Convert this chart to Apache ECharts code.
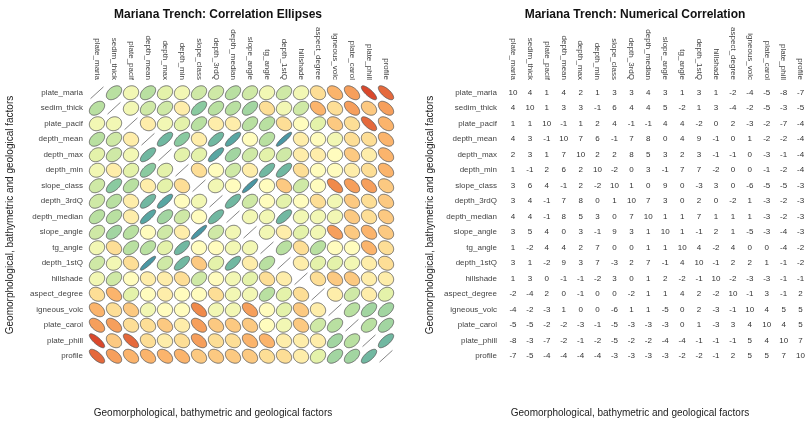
<!DOCTYPE html>
<html>
<head>
<meta charset="utf-8">
<script src="https://cdn.jsdelivr.net/npm/echarts@6/dist/echarts.min.js"></script>
<style>html,body{margin:0;padding:0;background:#fff;}#c{width:809px;height:421px;}</style>
</head>
<body>
<div id="c"></div>
<script>
const variables = ["plate_maria","sedim_thick","plate_pacif","depth_mean","depth_max","depth_min","slope_class","depth_3rdQ","depth_median","slope_angle","tg_angle","depth_1stQ","hillshade","aspect_degree","igneous_volc","plate_carol","plate_phill","profile"];

// correlation x 10, rows in order of variables
const row_plate_maria   = [10,4,1,4,2,1,3,3,4,3,1,3,1,-2,-4,-5,-8,-7];
const row_sedim_thick   = [4,10,1,3,3,-1,6,4,4,5,-2,1,3,-4,-2,-5,-3,-5];
const row_plate_pacif   = [1,1,10,-1,1,2,4,-1,-1,4,4,-2,0,2,-3,-2,-7,-4];
const row_depth_mean    = [4,3,-1,10,7,6,-1,7,8,0,4,9,-1,0,1,-2,-2,-4];
const row_depth_max     = [2,3,1,7,10,2,2,8,5,3,2,3,-1,-1,0,-3,-1,-4];
const row_depth_min     = [1,-1,2,6,2,10,-2,0,3,-1,7,7,-2,0,0,-1,-2,-4];
const row_slope_class   = [3,6,4,-1,2,-2,10,1,0,9,0,-3,3,0,-6,-5,-5,-3];
const row_depth_3rdQ    = [3,4,-1,7,8,0,1,10,7,3,0,2,0,-2,1,-3,-2,-3];
const row_depth_median  = [4,4,-1,8,5,3,0,7,10,1,1,7,1,1,1,-3,-2,-3];
const row_slope_angle   = [3,5,4,0,3,-1,9,3,1,10,1,-1,2,1,-5,-3,-4,-3];
const row_tg_angle      = [1,-2,4,4,2,7,0,0,1,1,10,4,-2,4,0,0,-4,-2];
const row_depth_1stQ    = [3,1,-2,9,3,7,-3,2,7,-1,4,10,-1,2,2,1,-1,-2];
const row_hillshade     = [1,3,0,-1,-1,-2,3,0,1,2,-2,-1,10,-2,-3,-3,-1,-1];
const row_aspect_degree = [-2,-4,2,0,-1,0,0,-2,1,1,4,2,-2,10,-1,3,-1,2];
const row_igneous_volc  = [-4,-2,-3,1,0,0,-6,1,1,-5,0,2,-3,-1,10,4,5,5];
const row_plate_carol   = [-5,-5,-2,-2,-3,-1,-5,-3,-3,-3,0,1,-3,3,4,10,4,5];
const row_plate_phill   = [-8,-3,-7,-2,-1,-2,-5,-2,-2,-4,-4,-1,-1,-1,5,4,10,7];
const row_profile       = [-7,-5,-4,-4,-4,-4,-3,-3,-3,-3,-2,-2,-1,2,5,5,7,10];

const rows = [row_plate_maria,row_sedim_thick,row_plate_pacif,row_depth_mean,row_depth_max,row_depth_min,row_slope_class,row_depth_3rdQ,row_depth_median,row_slope_angle,row_tg_angle,row_depth_1stQ,row_hillshade,row_aspect_degree,row_igneous_volc,row_plate_carol,row_plate_phill,row_profile];

const axisTitle = "Geomorphological, bathymetric and geological factors";

// colour ramp
const stops = [
  [-1.0,[190,30,40]],
  [-0.8,[218,72,44]],
  [-0.6,[240,138,75]],
  [-0.4,[251,180,108]],
  [-0.2,[253,222,150]],
  [0.0,[255,252,190]],
  [0.2,[228,242,170]],
  [0.4,[185,224,161]],
  [0.6,[138,202,160]],
  [0.8,[88,166,162]],
  [1.0,[60,135,165]]
];
function colorFor(r){
  for(let i=0;i<stops.length-1;i++){
    const a=stops[i], b=stops[i+1];
    if(r>=a[0] && r<=b[0]){
      const t=(r-a[0])/(b[0]-a[0]);
      const c=a[1].map((v,k)=>Math.round(v+(b[1][k]-v)*t));
      return 'rgb('+c.join(',')+')';
    }
  }
  return 'rgb(255,252,190)';
}

const cellData = [];
rows.forEach((row,i)=>row.forEach((v,j)=>cellData.push([j,i,v])));

const chart = echarts.init(document.getElementById('c'), null, {renderer:'canvas'});

const labelFont = {fontSize:8, color:'#444', fontFamily:'Liberation Sans, Arial, sans-serif'};

function xAx(idx){
  return {type:'category', gridIndex:idx, data:variables, position:'top',
    axisLine:{show:false}, axisTick:{show:false}, splitLine:{show:false},
    axisLabel:Object.assign({rotate:90, margin:5, interval:0}, labelFont)};
}
function yAx(idx, margin){
  return {type:'category', gridIndex:idx, data:variables, inverse:true,
    axisLine:{show:false}, axisTick:{show:false}, splitLine:{show:false},
    axisLabel:Object.assign({margin:margin, interval:0}, labelFont)};
}

const option = {
  animation:false,
  backgroundColor:'#fff',
  textStyle:{fontFamily:'Liberation Sans, Arial, sans-serif'},
  title:[
    {text:'Mariana Trench: Correlation Ellipses', left:213, top:4, textAlign:'center',
     textStyle:{fontSize:12, fontWeight:'bold', color:'#111', fontFamily:'Liberation Sans, Arial, sans-serif'}},
    {text:'Mariana Trench: Numerical Correlation', left:630, top:4, textAlign:'center',
     textStyle:{fontSize:12, fontWeight:'bold', color:'#111', fontFamily:'Liberation Sans, Arial, sans-serif'}}
  ],
  grid:[
    {left:88.5, top:85, width:306, height:279},
    {left:504.5, top:85, width:306, height:279}
  ],
  xAxis:[xAx(0), xAx(1)],
  yAxis:[yAx(0,5.5), yAx(1,7.5)],
  graphic:[
    {type:'text', x:10, y:215, rotation:Math.PI/2,
     style:{text:axisTitle, fontSize:10, fill:'#222', align:'center', verticalAlign:'middle', fontFamily:'Liberation Sans, Arial, sans-serif'}},
    {type:'text', x:430, y:215, rotation:Math.PI/2,
     style:{text:axisTitle, fontSize:10, fill:'#222', align:'center', verticalAlign:'middle', fontFamily:'Liberation Sans, Arial, sans-serif'}},
    {type:'text', x:213, y:413,
     style:{text:axisTitle, fontSize:10, fill:'#222', align:'center', verticalAlign:'middle', fontFamily:'Liberation Sans, Arial, sans-serif'}},
    {type:'text', x:630, y:413,
     style:{text:axisTitle, fontSize:10, fill:'#222', align:'center', verticalAlign:'middle', fontFamily:'Liberation Sans, Arial, sans-serif'}}
  ],
  series:[
    {type:'custom', xAxisIndex:0, yAxisIndex:0, data:cellData,
     renderItem:function(params, api){
       const c = api.coord([api.value(0), api.value(1)]);
       const s = api.size([1,1]);
       const r = api.value(2)/10;
       const w = s[0]*0.9, h = s[1]*0.9;
       if (r >= 0.999){
         return {type:'line', shape:{x1:c[0]-s[0]*0.38, y1:c[1]+s[1]*0.38, x2:c[0]+s[0]*0.38, y2:c[1]-s[1]*0.38},
           style:{stroke:'#666', lineWidth:0.8}};
       }
       const d = Math.acos(r);
       const pts = [];
       const n = 64;
       for(let k=0;k<n;k++){
         const t = 2*Math.PI*k/n;
         const x = Math.cos(t + d/2)/2;
         const y = Math.cos(t - d/2)/2;
         pts.push([c[0] + x*w, c[1] - y*h]);
       }
       return {type:'polygon', shape:{points:pts},
         style:{fill:colorFor(r), stroke:'#555', lineWidth:0.8}};
     }},
    {type:'custom', xAxisIndex:1, yAxisIndex:1, data:cellData,
     renderItem:function(params, api){
       const c = api.coord([api.value(0), api.value(1)]);
       return {type:'text', x:c[0], y:c[1],
         style:{text:String(api.value(2)), align:'center', verticalAlign:'middle', fontSize:8, fill:'#333', fontFamily:'Liberation Sans, Arial, sans-serif'}};
     }}
  ]
};
chart.setOption(option);
</script>
</body>
</html>
